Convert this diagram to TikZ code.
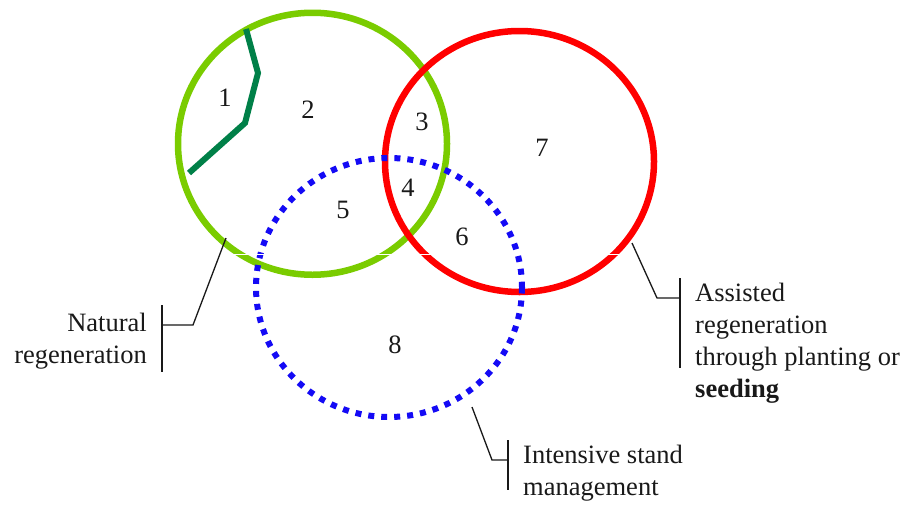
\documentclass[tikz,border=0pt]{standalone}
\usepackage{fontspec}
\setmainfont{Liberation Serif}
\definecolor{limeg}{RGB}{122,204,0}
\definecolor{darkg}{RGB}{0,128,72}
\definecolor{ringred}{RGB}{255,0,0}
\definecolor{ringblue}{RGB}{20,10,245}
\definecolor{ink}{RGB}{25,25,25}
\tikzset{
  ring/.style={line width=6.5pt},
  leader/.style={draw=ink,line width=1.3pt},
  numlab/.style={inner sep=0pt,text=ink,font=\fontsize{26.5}{32}\selectfont},
  textlab/.style={inner sep=0pt,text=ink,font=\fontsize{26.5}{32}\selectfont},
}
\begin{document}
\begin{tikzpicture}[x=1pt,y=-1pt]
\useasboundingbox[fill=white] (0,0) rectangle (904,504);
% circle centres
\coordinate (gc) at (312.5,143.75);
\coordinate (rc) at (519.5,161.5);
\coordinate (bc) at (389,287.5);
% rings
\draw[ring,draw=limeg] (gc) ellipse [x radius=134.5, y radius=131];
\draw[ring,draw=ringred] (rc) ellipse [x radius=134.5, y radius=130.5];
\draw[ring,draw=ringblue,line width=6pt,dash pattern=on 6pt off 7pt] (bc) ellipse [x radius=133, y radius=129.5];
% dark green boundary
\coordinate (p1) at (246,29);
\coordinate (p2) at (258,73);
\coordinate (p3) at (245,123);
\coordinate (p4) at (189,173);
\draw[draw=darkg,line width=6pt,line join=miter] (p1) -- (p2) -- (p3) -- (p4);
% scan artefact
\coordinate (w1) at (222,254.5);
\coordinate (w2) at (640,254.5);
\draw[white,line width=0.9pt] (w1) -- (w2);
% region numbers
\node[numlab] (r1) at (225,98) {1};
\node[numlab] (r2) at (308,110) {2};
\node[numlab] (r3) at (422,122) {3};
\node[numlab] (r4) at (408,188) {4};
\node[numlab] (r5) at (343,210) {5};
\node[numlab] (r6) at (462,237) {6};
\node[numlab] (r7) at (542,148) {7};
\node[numlab] (r8) at (395,345) {8};
% Natural regeneration
\coordinate (na) at (226,238);
\coordinate (nb) at (193,325);
\coordinate (nc) at (162,325);
\coordinate (nt) at (162,305);
\coordinate (nbt) at (162,372);
\draw[leader] (na) -- (nb) -- (nc);
\draw[leader] (nt) -- (nbt);
\node[textlab,anchor=base east,align=right] (natlab) at (147,363) {Natural\\regeneration};
% Assisted regeneration
\coordinate (aa) at (632,243);
\coordinate (ab) at (657,298);
\coordinate (ac) at (680,298);
\coordinate (at) at (680,278);
\coordinate (abt) at (680,368);
\draw[leader] (aa) -- (ab) -- (ac);
\draw[leader] (at) -- (abt);
\node[textlab,anchor=base west,align=left] (asslab) at (695,397) {Assisted\\regeneration\\through planting or\\\textbf{seeding}};
% Intensive stand management
\coordinate (ia) at (472,407);
\coordinate (ib) at (492,460);
\coordinate (ic) at (508,460);
\coordinate (it) at (508,440);
\coordinate (ibt) at (508,490);
\draw[leader] (ia) -- (ib) -- (ic);
\draw[leader] (it) -- (ibt);
\node[textlab,anchor=base west,align=left] (intlab) at (523,495) {Intensive stand\\management};
\end{tikzpicture}
\end{document}
